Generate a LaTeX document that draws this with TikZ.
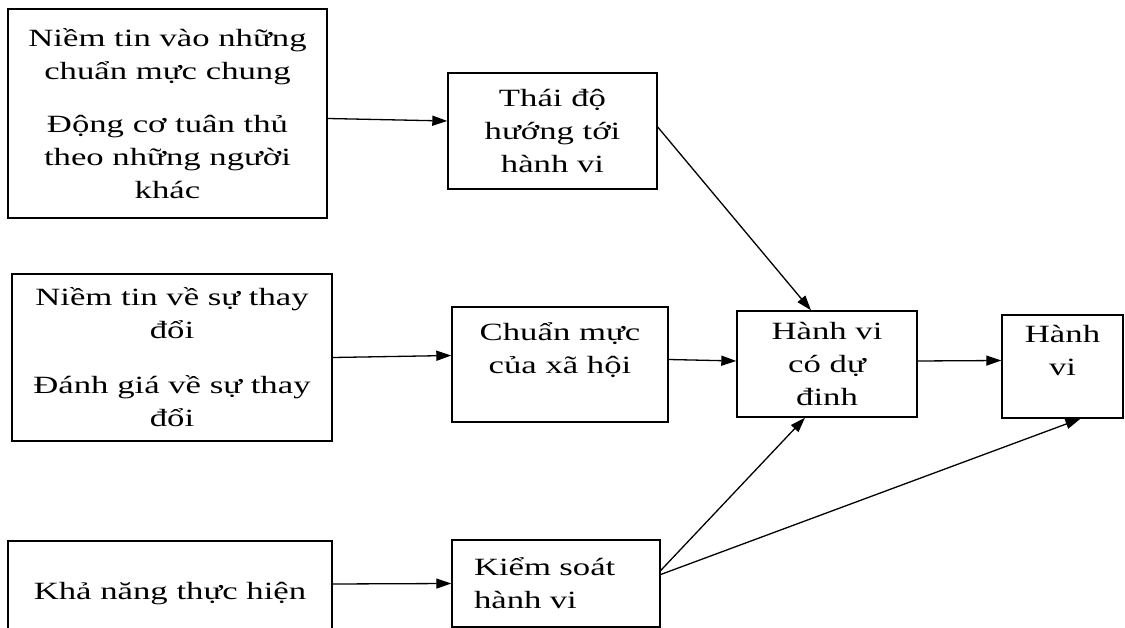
\documentclass[tikz,border=0pt]{standalone}
\usepackage{fontspec}
\setmainfont{Liberation Serif}[FakeStretch=1.4]
\usetikzlibrary{arrows.meta}
\tikzset{
 box/.style={draw,line width=1.4pt,align=center,inner sep=0pt,font=\fontsize{24.8}{33}\selectfont},
 arr/.style={line width=1.3pt,-{Triangle[length=15pt,width=10pt]}}
}
\begin{document}
\begin{tikzpicture}[x=1pt,y=-1pt]
\useasboundingbox (0,0) rectangle (1125,628);
\node[box,minimum width=319pt,minimum height=209pt] (belief) at (167.5,113.5) {Niềm tin vào những\\chuẩn mực chung\\[20pt]Động cơ tuân thủ\\theo những người\\khác};
\node[box,minimum width=320pt,minimum height=167pt] (change) at (172,357.5) {Niềm tin về sự thay\\đổi\\[22pt]Đánh giá về sự thay\\đổi};
\node[box,minimum width=324pt,minimum height=106pt] (ability) at (170,594) {Khả năng thực hiện};
\node[box,minimum width=209pt,minimum height=116pt] (attitude) at (552.5,131) {Thái độ\\hướng tới\\hành vi};
\node[box,minimum width=216pt,minimum height=115pt] (norm) at (560,364.5) {Chuẩn mực\\của xã hội\\\mbox{}};
\node[box,minimum width=208pt,minimum height=87pt,text width=164pt,align=left] (control) at (556,583.5) {Kiểm soát\\hành vi};
\node[box,minimum width=180pt,minimum height=106pt] (intent) at (827,364) {Hành vi\\có dự\\đinh};
\node[box,minimum width=121pt,minimum height=103pt] (behav) at (1062.5,366.5) {Hành\\vi\\\mbox{}};
\draw[arr] ([yshift=-5pt]belief.east) -- ([yshift=10pt]attitude.west);
\draw[arr] (change.east) -- ([yshift=9pt]norm.west);
\draw[arr] ([yshift=10pt]ability.east) -- (control.west);
\draw[arr] ([yshift=4pt]attitude.east) -- ([xshift=-16pt]intent.north);
\draw[arr] ([yshift=5pt]norm.east) -- ([yshift=3pt]intent.west);
\draw[arr] ([yshift=3pt]intent.east) -- ([yshift=6pt]behav.west);
\draw[arr] ([yshift=13pt]control.east) -- ([xshift=-22pt]intent.south);
\draw[arr] ([yshift=9pt]control.east) -- ([xshift=18pt]behav.south);
\end{tikzpicture}
\end{document}
